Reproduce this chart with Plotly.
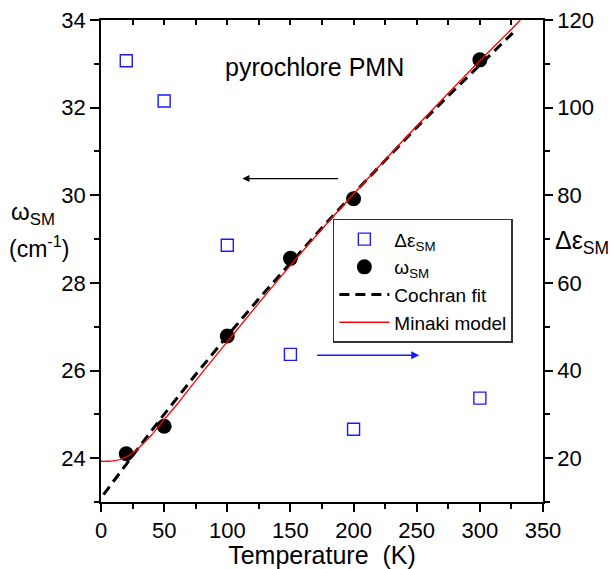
import plotly.graph_objects as go

# ---- data ----
T_data = [20, 50, 100, 150, 200, 300]
omega_sm = [24.10, 24.73, 26.79, 28.56, 29.92, 33.09]
delta_eps = [110.7, 101.5, 68.6, 43.7, 26.6, 33.7]

T_cochran = [2, 10, 20, 30, 40, 50, 75, 100, 125, 150, 175, 200, 225, 250, 275, 300, 326]
omega_cochran = [23.17, 23.47, 23.86, 24.25, 24.63, 25.00, 25.91, 26.79, 27.64, 28.46,
                 29.26, 30.04, 30.80, 31.55, 32.27, 32.98, 33.70]

T_minaki = [0, 5, 10, 15, 20, 25, 30, 35, 40, 50, 60, 75, 100, 125, 150, 175, 200,
            225, 250, 275, 300, 325, 332]
omega_minaki = [23.93, 23.93, 23.94, 23.97, 24.03, 24.12, 24.24, 24.38, 24.53, 24.88,
                25.22, 25.77, 26.66, 27.54, 28.40, 29.23, 30.03, 30.81, 31.58, 32.33,
                33.07, 33.79, 34.0]

x_ticks = [0, 50, 100, 150, 200, 250, 300, 350]
yl_ticks = [24, 26, 28, 30, 32, 34]
yr_ticks = [20, 40, 60, 80, 100, 120]

FONT = "Liberation Sans, Arial, Helvetica, sans-serif"

fig = go.Figure()

fig.add_trace(go.Scatter(
    x=T_data, y=delta_eps, mode="markers", name="Δε<sub>SM</sub>",
    marker=dict(symbol="square-open", size=12, color="#1a1aff", line=dict(width=1.4, color="#1a1aff")),
    xaxis="x", yaxis="y2"))
fig.add_trace(go.Scatter(
    x=T_data, y=omega_sm, mode="markers", name="ω<sub>SM</sub>",
    marker=dict(symbol="circle", size=15, color="black"),
    xaxis="x", yaxis="y"))
fig.add_trace(go.Scatter(
    x=T_cochran, y=omega_cochran, mode="lines", name="Cochran fit",
    line=dict(color="black", width=3, dash="10px,6px"),
    xaxis="x", yaxis="y"))
fig.add_trace(go.Scatter(
    x=T_minaki, y=omega_minaki, mode="lines", name="Minaki model",
    line=dict(color="#ff0000", width=1.3, shape="spline"),
    xaxis="x", yaxis="y"))
# invisible trace to activate the top axis
fig.add_trace(go.Scatter(x=[0], y=[23], xaxis="x2", yaxis="y", mode="markers",
                         marker=dict(opacity=0), showlegend=False, hoverinfo="skip"))

axis_common = dict(showgrid=False, zeroline=False, showline=True, linecolor="black",
                   linewidth=1.6, tickcolor="black", tickwidth=1.6, automargin=False,
                   tickfont=dict(family=FONT, size=22, color="black"))

fig.update_layout(
    width=614, height=569,
    margin=dict(l=101, r=71, t=20, b=66.5, autoexpand=False),
    paper_bgcolor="white", plot_bgcolor="white",
    showlegend=True,
    xaxis=dict(range=[0, 350], tickvals=x_ticks, ticks="outside", ticklen=8,
               minor=dict(dtick=25, tick0=0, ticks="outside", ticklen=5, tickcolor="black", tickwidth=1.6),
               title=dict(text="Temperature\u00a0\u00a0(K)", font=dict(family=FONT, size=25, color="black"), standoff=4),
               **axis_common),
    xaxis2=dict(range=[0, 350], overlaying="x", side="top", matches="x", tickvals=x_ticks,
                ticks="inside", ticklen=5, showticklabels=False,
                minor=dict(dtick=25, tick0=0, ticks="inside", ticklen=5, tickcolor="black", tickwidth=1.6),
                **axis_common),
    yaxis=dict(range=[23, 34], tickvals=yl_ticks, ticks="outside", ticklen=9,
               minor=dict(dtick=1, tick0=0, ticks="outside", ticklen=5, tickcolor="black", tickwidth=1.6),
               **axis_common),
    yaxis2=dict(range=[10, 120], tickvals=yr_ticks, overlaying="y", side="right", anchor="x",
                ticks="outside", ticklen=8,
                minor=dict(dtick=10, tick0=0, ticks="outside", ticklen=5, tickcolor="black", tickwidth=1.6),
                **axis_common),
    legend=dict(x=(333 - 101.3) / 441.7, y=(502.5 - 219) / 482.5, xanchor="left", yanchor="top",
                bgcolor="white", bordercolor="#333333", borderwidth=1.5,
                font=dict(family=FONT, size=19, color="black"),
                itemwidth=50, tracegroupgap=0),
)

annotations = [
    dict(text="pyrochlore PMN", x=169, y=32.92, xref="x", yref="y", showarrow=False,
         font=dict(family=FONT, size=25, color="black"), xanchor="center", yanchor="middle"),
    dict(text="ω<sub>SM</sub>", x=(33 - 101.3) / 441.7, y=(502.5 - 214) / 482.5,
         xref="paper", yref="paper", showarrow=False, align="center",
         font=dict(family=FONT, size=24, color="black"), xanchor="center", yanchor="middle"),
    dict(text="(cm<sup>-1</sup>)", x=(39 - 101.3) / 441.7, y=(502.5 - 247) / 482.5,
         xref="paper", yref="paper", showarrow=False, align="center",
         font=dict(family=FONT, size=23, color="black"), xanchor="center", yanchor="middle"),
    dict(text="Δε<sub>SM</sub>", x=(553 - 101.3) / 441.7, y=(502.5 - 242) / 482.5,
         xref="paper", yref="paper", showarrow=False,
         font=dict(family=FONT, size=25, color="black"), xanchor="left", yanchor="middle"),
    # black arrow (points to left axis)
    dict(x=112, y=30.38, ax=189, ay=30.38, xref="x", yref="y", axref="x", ayref="y",
         showarrow=True, arrowhead=2, arrowsize=1, arrowwidth=1.4, arrowcolor="black", text=""),
    # blue arrow (points to right axis)
    dict(x=252, y=26.35, ax=170, ay=26.35, xref="x", yref="y", axref="x", ayref="y",
         showarrow=True, arrowhead=2, arrowsize=1, arrowwidth=1.6, arrowcolor="#1a1aff", text=""),
]
fig.update_layout(annotations=annotations)

fig.write_html("out.html", config={"displayModeBar": False},
               post_script="document.body.style.margin='0';document.body.style.padding='0';")
